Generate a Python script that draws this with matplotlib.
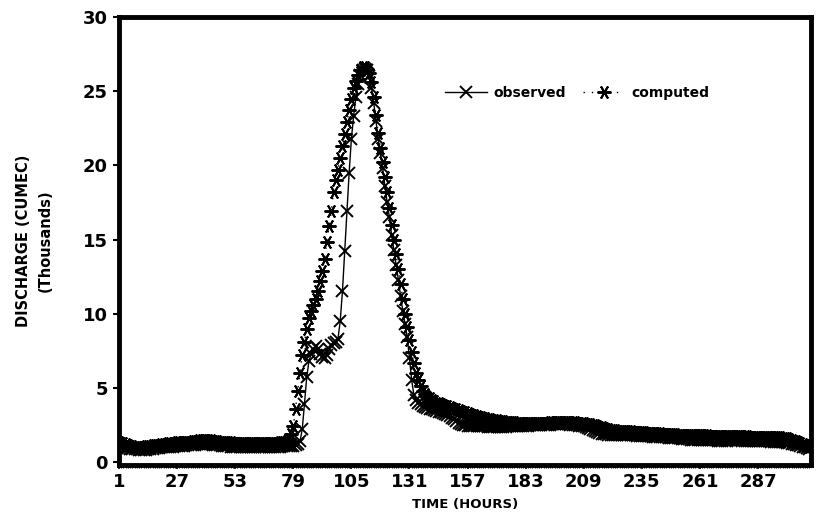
import matplotlib
matplotlib.use("Agg")
import matplotlib.pyplot as plt
from matplotlib.ticker import MultipleLocator, FixedLocator

# ---- data (hourly discharge, thousands of cumec) ----
observed = [
    1.10, 1.05, 1.00, 0.95, 0.92, 0.90, 0.88, 0.86, 0.85, 0.84,
    0.83, 0.83, 0.84, 0.86, 0.88, 0.90, 0.92, 0.94, 0.96, 0.98,
    1.00, 1.01, 1.02, 1.03, 1.04, 1.05, 1.06, 1.07, 1.08, 1.10,
    1.12, 1.13, 1.15, 1.16, 1.18, 1.20, 1.21, 1.22, 1.22, 1.23,
    1.22, 1.20, 1.18, 1.16, 1.14, 1.12, 1.10, 1.08, 1.06, 1.05,
    1.04, 1.03, 1.02, 1.01, 1.00, 1.00, 0.99, 0.98, 0.98, 0.98,
    0.98, 0.98, 0.99, 0.99, 1.00, 1.00, 1.01, 1.01, 1.02, 1.02,
    1.03, 1.03, 1.04, 1.05, 1.05, 1.06, 1.07, 1.08, 1.10, 1.12,
    1.20, 1.40, 2.20, 3.90, 5.70, 6.80, 7.30, 7.60, 7.80, 7.60,
    7.30, 7.10, 7.00, 7.20, 7.60, 7.90, 8.00, 8.10, 8.30, 9.50,
    11.50, 14.20, 16.90, 19.50, 21.80, 23.30, 24.60, 25.50, 26.10, 26.40,
    26.50, 26.40, 26.00, 25.20, 24.20, 23.00, 21.80, 20.80, 19.80, 18.60,
    17.50, 16.50, 15.30, 14.30, 13.30, 12.30, 11.20, 10.20, 9.30, 8.40,
    7.00, 5.50, 4.50, 4.20, 4.00, 3.90, 3.80, 3.70, 3.65, 3.60,
    3.55, 3.50, 3.45, 3.40, 3.35, 3.30, 3.25, 3.20, 3.10, 3.00,
    2.90, 2.75, 2.65, 2.55, 2.50, 2.48, 2.46, 2.45, 2.44, 2.43,
    2.42, 2.41, 2.40, 2.40, 2.40, 2.39, 2.38, 2.38, 2.38, 2.38,
    2.38, 2.38, 2.38, 2.39, 2.40, 2.40, 2.40, 2.41, 2.42, 2.42,
    2.43, 2.44, 2.45, 2.46, 2.47, 2.48, 2.49, 2.50, 2.50, 2.51,
    2.52, 2.52, 2.53, 2.53, 2.54, 2.54, 2.54, 2.55, 2.55, 2.55,
    2.55, 2.54, 2.53, 2.52, 2.50, 2.48, 2.46, 2.43, 2.40, 2.36,
    2.31, 2.25, 2.18, 2.10, 2.03, 1.97, 1.92, 1.88, 1.86, 1.85,
    1.84, 1.84, 1.84, 1.85, 1.85, 1.84, 1.83, 1.82, 1.81, 1.80,
    1.80, 1.79, 1.78, 1.77, 1.76, 1.75, 1.74, 1.74, 1.73, 1.72,
    1.71, 1.70, 1.69, 1.68, 1.67, 1.66, 1.65, 1.64, 1.63, 1.62,
    1.61, 1.60, 1.58, 1.56, 1.54, 1.52, 1.50, 1.49, 1.48, 1.48,
    1.48, 1.48, 1.48, 1.48, 1.47, 1.47, 1.46, 1.46, 1.45, 1.45,
    1.45, 1.45, 1.45, 1.46, 1.47, 1.48, 1.48, 1.47, 1.46, 1.45,
    1.44, 1.44, 1.43, 1.43, 1.42, 1.42, 1.41, 1.41, 1.40, 1.40,
    1.40, 1.39, 1.38, 1.37, 1.36, 1.35, 1.34, 1.33, 1.32, 1.30,
    1.27, 1.24, 1.20, 1.16, 1.12, 1.08, 1.03, 0.98, 0.92, 0.85,
]

computed = [
    1.35, 1.30, 1.25, 1.20, 1.15, 1.10, 1.05, 1.02, 1.00, 1.00,
    1.00, 1.02, 1.05, 1.08, 1.10, 1.12, 1.14, 1.16, 1.18, 1.20,
    1.22, 1.24, 1.26, 1.28, 1.30, 1.31, 1.32, 1.33, 1.34, 1.35,
    1.36, 1.37, 1.38, 1.40, 1.42, 1.44, 1.46, 1.47, 1.48, 1.48,
    1.47, 1.46, 1.44, 1.42, 1.40, 1.38, 1.36, 1.35, 1.34, 1.33,
    1.32, 1.31, 1.30, 1.29, 1.28, 1.27, 1.26, 1.26, 1.25, 1.25,
    1.25, 1.25, 1.26, 1.26, 1.27, 1.27, 1.28, 1.28, 1.29, 1.30,
    1.30, 1.31, 1.32, 1.33, 1.35, 1.40, 1.55, 1.90, 2.40, 3.60,
    4.80, 6.00, 7.20, 8.10, 9.00, 9.70, 10.20, 10.60, 11.00, 11.50,
    12.20, 12.90, 13.70, 14.80, 15.90, 16.90, 18.20, 19.00, 19.70, 20.50,
    21.30, 22.10, 22.90, 23.70, 24.50, 25.20, 25.70, 26.10, 26.40, 26.60,
    26.60, 26.50, 26.20, 25.60, 24.60, 23.40, 22.20, 21.20, 20.20, 19.20,
    18.20, 17.10, 16.00, 15.00, 14.00, 13.00, 12.00, 11.00, 10.00, 9.10,
    8.20, 7.40, 6.70, 6.00, 5.50, 5.10, 4.80, 4.60, 4.40, 4.30,
    4.20, 4.10, 4.00, 3.95, 3.90, 3.85, 3.80, 3.75, 3.70, 3.65,
    3.60, 3.55, 3.50, 3.45, 3.40, 3.35, 3.30, 3.25, 3.20, 3.15,
    3.10, 3.06, 3.02, 2.98, 2.95, 2.92, 2.89, 2.86, 2.83, 2.80,
    2.78, 2.76, 2.74, 2.72, 2.70, 2.69, 2.68, 2.67, 2.66, 2.65,
    2.64, 2.64, 2.63, 2.63, 2.63, 2.63, 2.63, 2.64, 2.64, 2.65,
    2.65, 2.66, 2.66, 2.67, 2.67, 2.68, 2.68, 2.68, 2.69, 2.69,
    2.69, 2.69, 2.68, 2.68, 2.67, 2.66, 2.65, 2.63, 2.61, 2.59,
    2.57, 2.54, 2.51, 2.47, 2.43, 2.38, 2.33, 2.28, 2.24, 2.20,
    2.17, 2.15, 2.13, 2.12, 2.11, 2.10, 2.09, 2.08, 2.07, 2.06,
    2.05, 2.04, 2.03, 2.02, 2.01, 2.00, 1.99, 1.98, 1.97, 1.96,
    1.95, 1.94, 1.93, 1.92, 1.91, 1.90, 1.89, 1.88, 1.87, 1.86,
    1.85, 1.84, 1.84, 1.83, 1.83, 1.82, 1.82, 1.81, 1.81, 1.80,
    1.80, 1.80, 1.79, 1.79, 1.78, 1.78, 1.78, 1.77, 1.77, 1.77,
    1.76, 1.76, 1.76, 1.75, 1.75, 1.75, 1.74, 1.74, 1.74, 1.73,
    1.73, 1.73, 1.72, 1.72, 1.72, 1.71, 1.71, 1.71, 1.70, 1.70,
    1.70, 1.69, 1.69, 1.68, 1.68, 1.67, 1.66, 1.64, 1.62, 1.59,
    1.55, 1.50, 1.45, 1.40, 1.34, 1.28, 1.22, 1.15, 1.08, 1.00,
]

hours = list(range(1, len(observed) + 1))
xtick_values = [1, 27, 53, 79, 105, 131, 157, 183, 209, 235, 261, 287]
ytick_values = [0, 5, 10, 15, 20, 25, 30]

plt.rcParams['font.family'] = ['DejaVu Sans']

fig = plt.figure(figsize=(8.17, 5.16), dpi=100)
ax = fig.add_axes([119 / 817, 51 / 516, 692 / 817, 448 / 516])

ast = (6, 2, 90)
ax.plot(hours, computed, linestyle=(0, (1, 5)), lw=1.0, color='black',
        marker=ast, markersize=10, markeredgewidth=1.4, label='computed', zorder=2)
ax.plot(hours, observed, linestyle='-', lw=1.0, color='black',
        marker='x', markersize=9, markeredgewidth=1.4, label='observed', zorder=3)

ax.set_xlim(1, 310.7)
ax.set_ylim(-0.2, 30)

ax.xaxis.set_major_locator(FixedLocator(xtick_values))
ax.xaxis.set_minor_locator(MultipleLocator(1))
ax.yaxis.set_major_locator(FixedLocator(ytick_values))
ax.set_xticklabels([str(v) for v in xtick_values])
ax.set_yticklabels([str(v) for v in ytick_values])

for lab in ax.get_xticklabels() + ax.get_yticklabels():
    lab.set_fontweight('bold')
    lab.set_fontsize(13)

ax.tick_params(axis='x', which='major', direction='out', length=3, width=1.2, pad=3)
ax.tick_params(axis='x', which='minor', direction='out', length=2, width=0.8)
ax.tick_params(axis='y', which='major', direction='out', length=4, width=1.5, pad=4)

for sp in ax.spines.values():
    sp.set_linewidth(3.5)
    sp.set_color('black')

ax.set_xlabel('TIME (HOURS)', fontsize=9.5, fontweight='bold', labelpad=5)
ax.set_ylabel('DISCHARGE (CUMEC)\n(Thousands)', fontsize=10.5, fontweight='bold',
              labelpad=22, linespacing=1.5)

handles, labels = ax.get_legend_handles_labels()
leg = ax.legend(handles[::-1], labels[::-1], loc='center left',
                bbox_to_anchor=(0.471, 0.83), ncol=2, frameon=False,
                prop={'weight': 'bold', 'size': 10}, handlelength=3.0,
                handletextpad=0.5, columnspacing=1.2, borderpad=0, borderaxespad=0)

fig.savefig('out.png', dpi=100)
